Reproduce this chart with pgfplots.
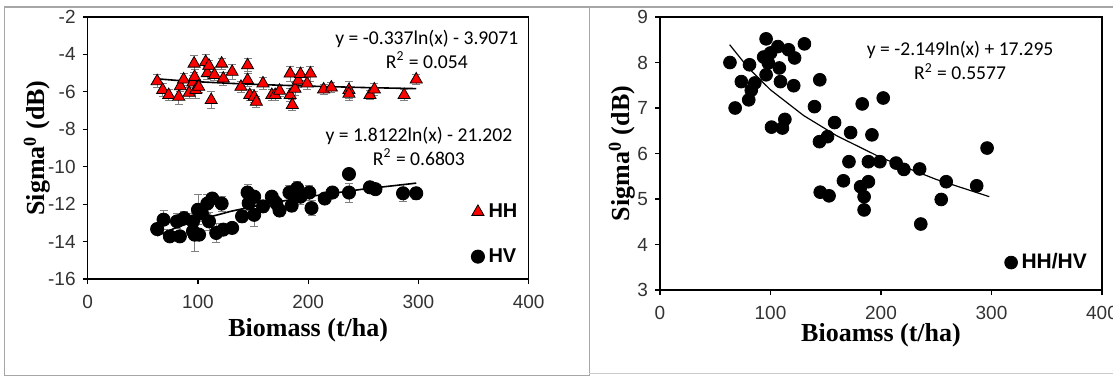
\documentclass[border=0pt]{standalone}
\usepackage{fontspec}
\setmainfont{Liberation Sans}
\newfontfamily\eqfont{Carlito}
\newfontfamily\titlefont{Liberation Serif}
\usepackage{pgfplots}
\pgfplotsset{compat=1.18}
\usepackage{pgfplotstable}

\pgfplotstableread{
x y e
63 -5.43 0.35
68 -5.9 0.35
73.5 -6.17 0.3
82.6 -6.26 0.4
84 -5.7 0.3
87 -5.34 0.3
92 -6.05 0.3
95.5 -5.5 0.4
96.5 -4.49 0.45
97 -5.2 0.4
98 -5.9 0.45
100.7 -5.73 0.3
107 -4.4 0.4
108.5 -5.0 0.35
110 -4.6 0.3
112 -6.44 0.45
115 -5.1 0.3
121.5 -4.49 0.3
123 -5.29 0.35
131 -4.93 0.4
139 -5.73 0.3
145 -4.58 0.35
145 -5.37 0.35
147 -6.17 0.3
151 -6.26 0.3
153 -6.53 0.3
159 -5.55 0.3
167 -6.17 0.3
170 -6.17 0.3
174 -5.94 0.3
183.6 -5.02 0.4
183.6 -6.17 0.35
185.6 -6.7 0.3
188 -5.83 0.35
191 -5.4 0.35
193 -5.05 0.35
199 -5.55 0.3
202 -5.02 0.4
214 -5.87 0.25
221 -5.77 0.25
237 -5.9 0.45
237 -6.1 0.35
256 -6.17 0.25
260 -5.87 0.3
287 -6.17 0.3
298 -5.34 0.25
}\hh

\pgfplotstableread{
x y e
63 -13.33 0.3
68.8 -12.83 0.5
74.5 -13.72 0.2
81 -12.92 0.4
83.6 -13.72 0.2
87.4 -12.75 0.35
95.5 -12.92 0.4
95.5 -13.45 0.3
97 -13.63 0.9
101 -13.63 0.3
100 -12.3 0.8
103.6 -12.5 0.4
108.5 -11.97 0.5
110 -12.92 0.5
113 -11.7 0.3
116.6 -13.54 0.5
121.5 -11.97 0.4
123 -13.36 0.3
131 -13.27 0.3
140 -12.65 0.3
145 -11.38 0.45
146 -11.95 0.4
151 -11.6 0.3
151 -12.57 0.6
159 -12.12 0.3
167 -11.6 0.3
171 -11.95 0.35
174 -12.34 0.3
183 -11.38 0.4
185 -12.08 0.3
187 -11.42 0.35
190 -11.15 0.35
193 -11.6 0.4
201 -11.38 0.4
203 -12.21 0.4
215 -11.7 0.2
222 -11.38 0.2
237 -10.39 0.2
237 -11.38 0.5
256 -11.1 0.2
261 -11.2 0.2
286 -11.42 0.45
298 -11.42 0.3
}\hv

\pgfplotstableread{
x y
63.3 8.0
68 7.0
73.6 7.58
81 7.95
80.3 7.18
82.6 7.39
85.8 7.55
93.8 8.12
96 8.52
96 7.73
98 7.99
100 8.21
100.9 6.58
106.7 8.35
108 7.88
109 7.58
110.8 6.56
113 6.75
116.3 8.28
121.8 8.1
121 7.49
130.7 8.41
139.8 7.03
144.6 7.62
144.3 6.26
145 5.15
151.6 6.37
153 5.07
158 6.68
166 5.40
171 5.82
172.5 6.46
183 7.09
181.5 5.27
184.7 5.05
184.7 4.76
188.6 5.38
188.6 5.82
191.8 6.41
199 5.82
202 7.22
213.7 5.79
220.7 5.65
235 5.66
236 4.45
254.5 4.99
259 5.38
286.6 5.29
296 6.12
}\ratio

\pgfplotsset{
  myax/.style={
    scale only axis,
    axis line style={line width=0.8pt},
    tick style={black, line width=0.6pt},
    tick align=outside,
    major tick length=2.5pt,
    tick pos=left,
    ticklabel style={font=\fontsize{9.5}{11}\selectfont, text=black!80},
    xticklabel style={yshift=-2pt},
    /pgf/number format/assume math mode=true,
    label style={font=\titlefont\bfseries\fontsize{13}{15}\selectfont},
    clip=false,
  },
  ebar/.style={error bars/.cd, y dir=both, y explicit,
    error bar style={gray, line width=0.4pt},
    error mark options={rotate=90, mark size=2pt, gray, line width=0.4pt}},
  dotleg/.style={legend image code/.code={\draw[##1] plot coordinates {(0pt,0pt)};}},
}

\begin{document}
\begin{tikzpicture}[x=1pt,y=1pt]
\draw[gray!70, line width=0.5pt] (2,0.5) rectangle (294.5,184.5);
\draw[gray!70, line width=0.5pt] (294.5,184.5) -- (560,184.5);
\draw[gray!40, line width=0.5pt] (294.5,1.5) -- (560,1.5);

\begin{axis}[myax,
  at={(43.85pt,48.5pt)}, anchor=south west,
  width=220.5pt, height=131pt,
  xmin=0, xmax=400, ymin=-16, ymax=-2,
  xtick={0,100,200,300,400}, ytick={-16,-14,...,-2},
  xlabel={Biomass (t/ha)}, ylabel={Sigma\textsuperscript{0} (dB)},
  xlabel style={at={(axis description cs:0.5,-0.195)}, anchor=center},
  ylabel style={at={(axis description cs:-0.115,0.5)}, anchor=center},
  legend style={draw=none, fill=none, at={(axis description cs:0.869,0.305)}, anchor=north west,
    font=\bfseries\fontsize{10}{12}\selectfont, row sep=10pt, inner sep=0pt},
  legend cell align=left,
]
\addplot[only marks, mark=triangle*, mark size=3.5pt, mark options={fill=red, draw=none},
  dotleg, ebar] table[x=x,y=y,y error=e] {\hh};
\addlegendentry{HH}
\addplot[only marks, mark=*, mark size=3.3pt, mark options={fill=black, draw=none},
  dotleg, ebar] table[x=x,y=y,y error=e] {\hv};
\addlegendentry{HV}
\addplot[black, line width=0.8pt, forget plot] coordinates {
(63,-5.303) (80,-5.384) (100,-5.459) (130,-5.548) (160,-5.617) (200,-5.693) (250,-5.768) (298,-5.827)};
\addplot[black, line width=0.8pt, forget plot] coordinates {
(63,-13.694) (80,-13.261) (100,-12.856) (130,-12.380) (160,-12.005) (200,-11.601) (250,-11.197) (298,-10.877)};
\node[font=\eqfont\fontsize{9.8}{12}\selectfont, align=center] at (axis description cs:0.769,0.878) {y = -0.337ln(x) - 3.9071\\ R\textsuperscript{2} = 0.054};
\node[font=\eqfont\fontsize{9.8}{12}\selectfont, align=center] at (axis description cs:0.751,0.508) {y = 1.8122ln(x) - 21.202\\ R\textsuperscript{2} = 0.6803};
\end{axis}

\begin{axis}[myax,
  at={(330pt,43pt)}, anchor=south west,
  width=221pt, height=136.5pt,
  xmin=0, xmax=400, ymin=3, ymax=9,
  xtick={0,100,200,300,400}, ytick={3,4,...,9},
  xlabel={Bioamss (t/ha)}, ylabel={Sigma\textsuperscript{0} (dB)},
  xlabel style={at={(axis description cs:0.5,-0.165)}, anchor=center},
  ylabel style={at={(axis description cs:-0.086,0.5)}, anchor=center},
  legend style={draw=none, fill=none, at={(axis description cs:0.779,0.150)}, anchor=north west,
    font=\bfseries\fontsize{10.5}{12}\selectfont, inner sep=0pt},
  legend cell align=left,
]
\addplot[only marks, mark=*, mark size=3.2pt, mark options={fill=black, draw=none},
  dotleg] table[x=x,y=y] {\ratio};
\addlegendentry{HH/HV}
\addplot[black, line width=0.6pt, forget plot] coordinates {
(63,8.392) (80,7.878) (100,7.399) (130,6.834) (160,6.389) (200,5.909) (250,5.430) (298,5.052)};
\node[font=\eqfont\fontsize{9.8}{12}\selectfont, align=center] at (axis description cs:0.679,0.841) {y = -2.149ln(x) + 17.295\\ R\textsuperscript{2} = 0.5577};
\end{axis}
\pgfresetboundingbox
\path[use as bounding box] (0,0) rectangle (556.5,188);
\end{tikzpicture}
\end{document}
